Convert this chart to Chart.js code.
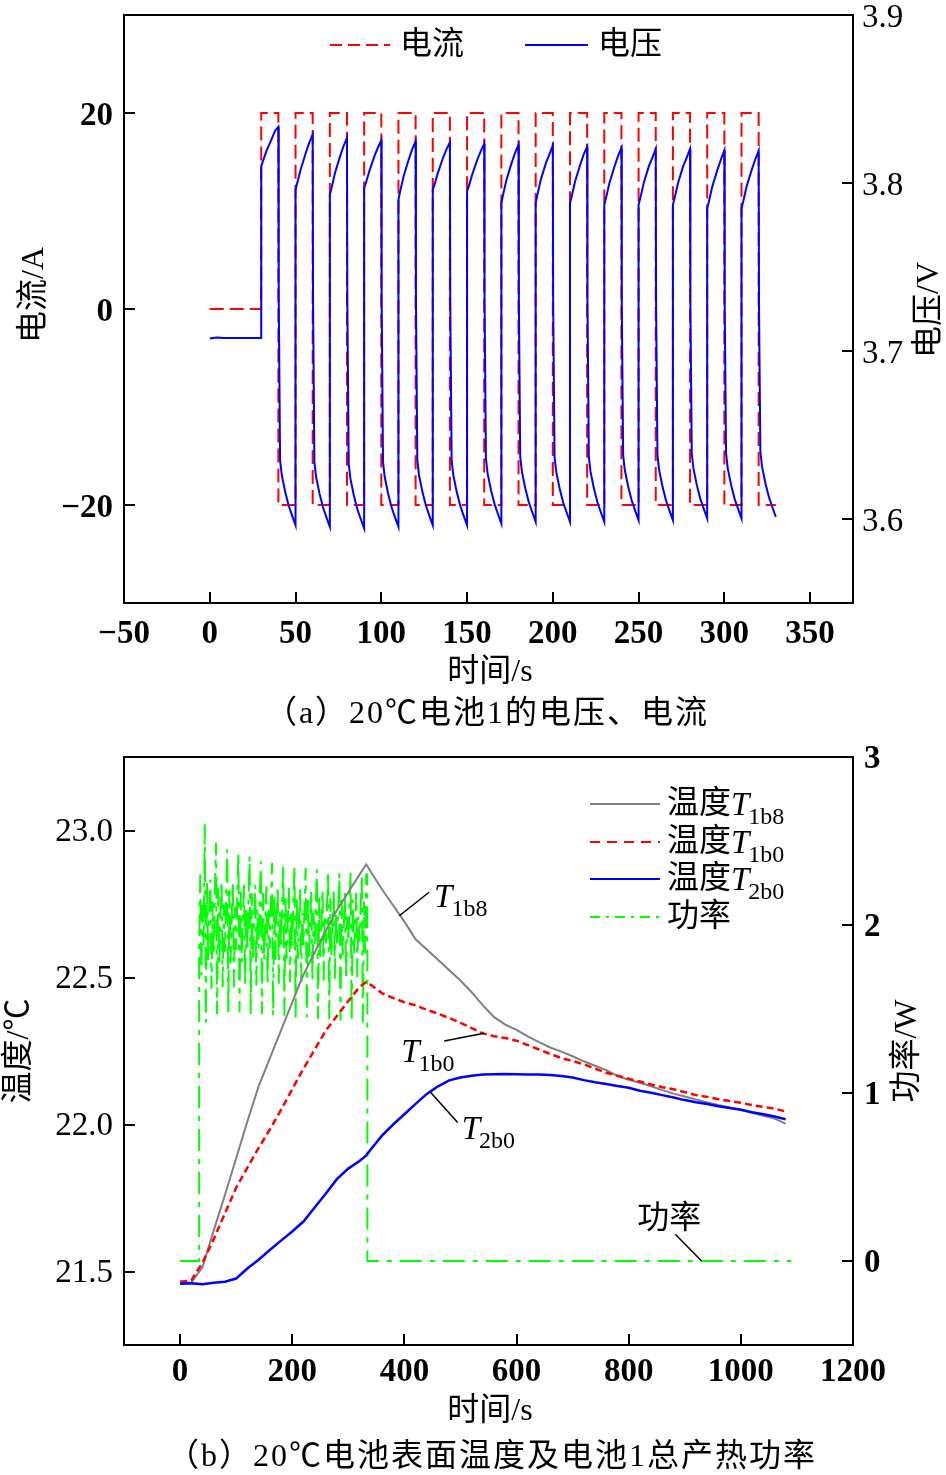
<!DOCTYPE html>
<html><head><meta charset="utf-8">
<script src="https://cdn.jsdelivr.net/npm/chart.js@4.4.1/dist/chart.umd.min.js"></script>
<style>
body{margin:0;background:#fff;}
#wrap{position:relative;width:946px;height:1475px;overflow:hidden;background:#fff}
canvas{position:absolute;left:0}
.cap{position:absolute;white-space:nowrap;transform:translateX(-50%);font-family:"Liberation Serif","Noto Sans CJK SC",serif;font-size:32px;color:#000;line-height:40px;letter-spacing:2px;}
</style></head><body>
<div id="wrap">
<canvas id="c1" width="946" height="700" style="top:0"></canvas>
<div class="cap" style="top:692px;left:487px">（a）20℃电池1的电压、电流</div>
<canvas id="c2" width="946" height="700" style="top:740px"></canvas>
<div class="cap" style="top:1435px;left:492px">（b）20℃电池表面温度及电池1总产热功率</div>
</div>
<script>
const FONT = '"Liberation Serif", "Noto Sans CJK SC", serif';

// ================= (a) data =================
const aXTicks = [-50, 0, 50, 100, 150, 200, 250, 300, 350];
const aCurrentTicks = [-20, 0, 20];
const aVoltTicks = [3.6, 3.7, 3.8, 3.9];

const restTimes = [0, 4, 8, 30];
const restVolts = [3.7075, 3.7080, 3.7077, 3.7078];
const restCurrent = 0;
const chargeCurrent = 20;
const dischargeCurrent = -20;
const chargeDuration = 10;
const cycleDuration = 20;
const cycleStarts = [30, 50, 70, 90, 110, 130, 150, 170, 190, 210, 230, 250, 270, 290, 310];
const chargeOffsets = [0, 1, 3, 6, 8, 10];
const dischargeOffsets = [10.2, 11, 12, 14, 16, 18, 20];
const chargeVolts = [
  [3.810, 3.813, 3.819, 3.826, 3.831, 3.8335],
  [3.796, 3.800, 3.808, 3.818, 3.824, 3.8288],
  [3.793, 3.797, 3.806, 3.816, 3.822, 3.8268],
  [3.797, 3.800, 3.807, 3.816, 3.821, 3.8254],
  [3.790, 3.795, 3.804, 3.814, 3.820, 3.8248],
  [3.796, 3.799, 3.806, 3.815, 3.820, 3.8242],
  [3.795, 3.798, 3.805, 3.814, 3.819, 3.8234],
  [3.788, 3.793, 3.802, 3.812, 3.818, 3.8228],
  [3.788, 3.793, 3.802, 3.812, 3.817, 3.8223],
  [3.788, 3.792, 3.801, 3.811, 3.817, 3.8215],
  [3.787, 3.791, 3.800, 3.810, 3.816, 3.8209],
  [3.787, 3.791, 3.800, 3.810, 3.815, 3.8203],
  [3.787, 3.791, 3.800, 3.810, 3.815, 3.8203],
  [3.785, 3.789, 3.798, 3.808, 3.814, 3.8195],
  [3.785, 3.789, 3.798, 3.808, 3.814, 3.8193]
];
const dischargeVolts = [
  [3.733, 3.635, 3.626, 3.616, 3.608, 3.602, 3.5963],
  [3.731, 3.634, 3.625, 3.615, 3.607, 3.601, 3.5954],
  [3.730, 3.633, 3.624, 3.614, 3.606, 3.600, 3.5944],
  [3.731, 3.634, 3.625, 3.615, 3.607, 3.601, 3.5954],
  [3.731, 3.635, 3.626, 3.616, 3.608, 3.602, 3.5963],
  [3.730, 3.635, 3.626, 3.616, 3.608, 3.602, 3.5963],
  [3.730, 3.636, 3.627, 3.617, 3.609, 3.603, 3.5973],
  [3.729, 3.637, 3.628, 3.618, 3.610, 3.604, 3.5983],
  [3.729, 3.637, 3.628, 3.618, 3.610, 3.604, 3.5983],
  [3.729, 3.637, 3.628, 3.618, 3.610, 3.604, 3.5983],
  [3.728, 3.638, 3.629, 3.619, 3.611, 3.605, 3.5993],
  [3.728, 3.638, 3.629, 3.619, 3.611, 3.605, 3.5993],
  [3.728, 3.639, 3.630, 3.620, 3.612, 3.606, 3.6003],
  [3.727, 3.639, 3.630, 3.620, 3.612, 3.606, 3.6003],
  [3.727, 3.640, 3.631, 3.621, 3.613, 3.607, 3.6013]
];

// ================= (b) data =================
const bXTicks = [0, 200, 400, 600, 800, 1000, 1200];
const bTempTicks = [21.5, 22.0, 22.5, 23.0];
const bPowerTicks = [0, 1, 2, 3];

const tempTimes = [0,20,40,60,80,100,120,140,160,180,200,220,240,260,280,300,320,332,340,360,380,400,420,440,460,480,500,520,540,560,580,600,620,640,660,680,700,720,740,760,780,800,820,840,860,880,900,920,940,960,980,1000,1020,1040,1060,1080];
const tempT1b8 = [21.465,21.462,21.515,21.640,21.760,21.885,22.010,22.130,22.225,22.320,22.415,22.510,22.585,22.660,22.730,22.790,22.850,22.885,22.860,22.800,22.745,22.690,22.630,22.595,22.560,22.525,22.490,22.450,22.405,22.365,22.340,22.322,22.300,22.280,22.262,22.248,22.232,22.215,22.200,22.185,22.165,22.152,22.142,22.130,22.117,22.105,22.095,22.085,22.075,22.066,22.058,22.050,22.040,22.030,22.020,22.003];
const tempT1b0 = [21.465,21.470,21.530,21.610,21.698,21.785,21.853,21.920,21.983,22.050,22.120,22.190,22.255,22.320,22.370,22.420,22.468,22.485,22.475,22.447,22.430,22.416,22.405,22.390,22.377,22.362,22.346,22.328,22.310,22.300,22.294,22.285,22.270,22.255,22.240,22.226,22.216,22.205,22.190,22.176,22.166,22.156,22.146,22.136,22.127,22.120,22.110,22.100,22.094,22.086,22.080,22.074,22.066,22.060,22.054,22.044];
const tempT2b0 = [21.458,21.460,21.457,21.462,21.465,21.476,21.510,21.540,21.573,21.605,21.636,21.670,21.718,21.765,21.815,21.850,21.876,21.895,21.915,21.962,22.000,22.035,22.070,22.104,22.130,22.150,22.160,22.166,22.170,22.171,22.172,22.171,22.170,22.170,22.168,22.165,22.160,22.151,22.144,22.138,22.131,22.125,22.115,22.108,22.100,22.092,22.083,22.076,22.070,22.062,22.056,22.050,22.042,22.035,22.027,22.018];

const powerOnTime = 34;
const powerOffTime = 334;
const powerEndTime = 1090;
const powerCycleStarts = [34, 54, 74, 94, 114, 134, 154, 174, 194, 214, 234, 254, 274, 294, 314];
const powerOffsets = [0, 2, 4, 6, 8, 10, 12, 14, 16, 18];
const powerValues = [
  [1.86, 2.30, 1.70, 2.12, 1.88, 2.60, 1.42, 2.25, 1.78, 2.08],
  [2.27, 1.62, 2.14, 1.82, 2.18, 2.49, 1.47, 2.22, 1.76, 2.06],
  [2.26, 1.63, 2.12, 1.84, 2.16, 2.45, 1.48, 2.21, 1.77, 2.05],
  [2.25, 1.63, 2.11, 1.85, 2.15, 2.43, 1.48, 2.20, 1.78, 2.04],
  [2.24, 1.64, 2.10, 1.85, 2.15, 2.41, 1.47, 2.19, 1.78, 2.03],
  [2.24, 1.64, 2.09, 1.86, 2.14, 2.38, 1.47, 2.19, 1.79, 2.03],
  [2.23, 1.65, 2.09, 1.86, 2.14, 2.37, 1.46, 2.18, 1.79, 2.02],
  [2.23, 1.65, 2.08, 1.87, 2.13, 2.36, 1.46, 2.18, 1.80, 2.02],
  [2.22, 1.66, 2.08, 1.87, 2.13, 2.35, 1.45, 2.17, 1.80, 2.01],
  [2.22, 1.66, 2.07, 1.88, 2.12, 2.34, 1.45, 2.17, 1.81, 2.01],
  [2.21, 1.67, 2.07, 1.88, 2.12, 2.33, 1.44, 2.16, 1.81, 2.00],
  [2.21, 1.67, 2.06, 1.89, 2.11, 2.32, 1.44, 2.16, 1.82, 2.00],
  [2.20, 1.68, 2.06, 1.89, 2.11, 2.31, 1.43, 2.15, 1.82, 1.99],
  [2.20, 1.68, 2.05, 1.90, 2.10, 2.31, 1.43, 2.15, 1.83, 1.99],
  [2.19, 1.69, 2.05, 1.90, 2.10, 2.30, 1.42, 2.14, 1.83, 2.30]
];
const powerLastValue = 2.30;

// ================= build datasets =================
function voltagePoints() {
  const pts = restTimes.map((t, i) => ({x: t, y: restVolts[i]}));
  cycleStarts.forEach((t0, k) => {
    chargeOffsets.forEach((o, j) => pts.push({x: t0 + o, y: chargeVolts[k][j]}));
    dischargeOffsets.forEach((o, j) => pts.push({x: t0 + o, y: dischargeVolts[k][j]}));
  });
  return pts;
}
function currentPoints() {
  const pts = [{x: restTimes[0], y: restCurrent}, {x: cycleStarts[0], y: restCurrent}];
  cycleStarts.forEach(t0 => {
    pts.push({x: t0, y: chargeCurrent}, {x: t0 + chargeDuration, y: chargeCurrent},
             {x: t0 + chargeDuration, y: dischargeCurrent}, {x: t0 + cycleDuration, y: dischargeCurrent});
  });
  return pts;
}
function tempPoints(vals) { return tempTimes.map((t, i) => ({x: t, y: vals[i]})); }
function powerPoints() {
  const pts = [{x: 0, y: 0}, {x: powerOnTime, y: 0}];
  powerCycleStarts.forEach((t0, k) => powerOffsets.forEach((o, j) => pts.push({x: t0 + o, y: powerValues[k][j]})));
  pts.push({x: powerOffTime, y: powerLastValue}, {x: powerOffTime, y: 0}, {x: powerEndTime, y: 0});
  return pts;
}

// ================= helpers =================
const minus = v => (v < 0 ? '\u2212' : '') + Math.abs(v);
function tickScale(ticksArr, fmt, weight, padding, labelOffset, extra) {
  return Object.assign({
    type: 'linear',
    grid: {display: false, drawTicks: false},
    border: {display: false},
    afterBuildTicks: s => { s.ticks = ticksArr.map(v => ({value: v})); },
    ticks: {font: {family: FONT, size: 33, weight: weight}, color: '#000', padding: padding, labelOffset: labelOffset,
            maxRotation: 0, autoSkip: false, callback: v => fmt(v)}
  }, extra);
}
function vText(ctx, s, cx, cy, font) {
  ctx.save(); ctx.translate(cx, cy); ctx.rotate(-Math.PI / 2);
  ctx.font = font; ctx.textAlign = 'center'; ctx.textBaseline = 'middle'; ctx.fillStyle = '#000';
  ctx.fillText(s, 0, 0); ctx.restore();
}
function hText(ctx, s, x, y, font, align, baseline) {
  ctx.font = font; ctx.textAlign = align || 'left'; ctx.textBaseline = baseline || 'middle'; ctx.fillStyle = '#000';
  ctx.fillText(s, x, y);
  return ctx.measureText(s).width;
}
function tSub(ctx, x, baseY, sub) {
  ctx.font = 'italic 33px "Liberation Serif"'; ctx.textAlign = 'left'; ctx.textBaseline = 'alphabetic'; ctx.fillStyle = '#000';
  ctx.fillText('T', x, baseY);
  const w = ctx.measureText('T').width;
  ctx.font = '24px "Liberation Serif"';
  ctx.fillText(sub, x + w - 1, baseY + 9);
}
function seg(ctx, x1, y1, x2, y2, color, width, dash) {
  ctx.save(); ctx.strokeStyle = color; ctx.lineWidth = width; ctx.setLineDash(dash || []);
  ctx.beginPath(); ctx.moveTo(x1, y1); ctx.lineTo(x2, y2); ctx.stroke(); ctx.restore();
}
function framePlugin(drawExtra) {
  return {
    id: 'frame',
    afterDraw(chart) {
      const ctx = chart.ctx, a = chart.chartArea, TL = 11;
      ctx.save();
      ctx.strokeStyle = '#000'; ctx.lineWidth = 2; ctx.setLineDash([]);
      ctx.strokeRect(a.left, a.top, a.right - a.left, a.bottom - a.top);
      ctx.beginPath();
      const sx = chart.scales.x, sy = chart.scales.y, sy1 = chart.scales.y1;
      sx.ticks.forEach(t => { if (t.value <= sx.min || t.value >= sx.max) return; const p = Math.round(sx.getPixelForValue(t.value)); ctx.moveTo(p, a.bottom); ctx.lineTo(p, a.bottom - TL); });
      sy.ticks.forEach(t => { if (t.value <= sy.min || t.value >= sy.max) return; const p = Math.round(sy.getPixelForValue(t.value)); ctx.moveTo(a.left, p); ctx.lineTo(a.left + TL, p); });
      sy1.ticks.forEach(t => { if (t.value <= sy1.min || t.value >= sy1.max) return; const p = Math.round(sy1.getPixelForValue(t.value)); ctx.moveTo(a.right, p); ctx.lineTo(a.right - TL, p); });
      ctx.stroke();
      drawExtra(chart, ctx);
      ctx.restore();
    }
  };
}
const CJK = '32px "Liberation Serif", "Noto Sans CJK SC"';

// ================= chart (a) =================
new Chart(document.getElementById('c1'), {
  type: 'line',
  data: {datasets: [
    {label: '电压', data: voltagePoints(), yAxisID: 'y1', borderColor: '#0000ff', borderWidth: 2, pointRadius: 0, tension: 0, fill: false},
    {label: '电流', data: currentPoints(), yAxisID: 'y', borderColor: '#ff0000', borderWidth: 2, borderDash: [14, 6], pointRadius: 0, tension: 0, fill: false}
  ]},
  options: {
    responsive: false, animation: false, events: [],
    layout: {padding: {top: 15, left: 0, right: 0, bottom: 0}},
    plugins: {legend: {display: false}, tooltip: {enabled: false}},
    scales: {
      x: tickScale(aXTicks, minus, 'bold', 12, 0, {min: -50, max: 375, position: 'bottom',
          afterFit: s => { s.height = 97; s.paddingLeft = 0; s.paddingRight = 0; }}),
      y: tickScale(aCurrentTicks, minus, 'bold', 11, 3, {min: -30, max: 30, position: 'left',
          afterFit: s => { s.width = 124; s.paddingTop = 0; s.paddingBottom = 0; }}),
      y1: tickScale(aVoltTicks, v => v.toFixed(1), 'normal', 9, 3, {min: 3.55, max: 3.9, position: 'right',
          afterFit: s => { s.width = 93; s.paddingTop = 0; s.paddingBottom = 0; }})
    }
  },
  plugins: [framePlugin((chart, ctx) => {
    vText(ctx, '电流/A', 35, 295, CJK);
    vText(ctx, '电压/V', 930, 310, CJK);
    hText(ctx, '时间/s', 490, 673, CJK, 'center');
    seg(ctx, 330, 45, 390, 45, '#ff0000', 2, [12, 6]);
    hText(ctx, '电流', 400, 46, CJK);
    seg(ctx, 525, 45, 588, 45, '#0000ff', 2);
    hText(ctx, '电压', 598, 46, CJK);
  })]
});

// ================= chart (b) =================
new Chart(document.getElementById('c2'), {
  type: 'line',
  data: {datasets: [
    {label: '温度T2b0', data: tempPoints(tempT2b0), yAxisID: 'y', borderColor: '#0000ff', borderWidth: 2.5, pointRadius: 0, tension: 0},
    {label: '温度T1b0', data: tempPoints(tempT1b0), yAxisID: 'y', borderColor: '#ff0000', borderWidth: 2.5, borderDash: [7, 4], pointRadius: 0, tension: 0},
    {label: '温度T1b8', data: tempPoints(tempT1b8), yAxisID: 'y', borderColor: '#808080', borderWidth: 2, pointRadius: 0, tension: 0},
    {label: '功率', data: powerPoints(), yAxisID: 'y1', borderColor: '#00ff00', borderWidth: 2, borderDash: [22, 8, 5, 8], pointRadius: 0, tension: 0}
  ]},
  options: {
    responsive: false, animation: false, events: [],
    layout: {padding: {top: 17, left: 0, right: 0, bottom: 0}},
    plugins: {legend: {display: false}, tooltip: {enabled: false}},
    scales: {
      x: tickScale(bXTicks, minus, 'bold', 8, 0, {min: -100, max: 1200, position: 'bottom',
          afterFit: s => { s.height = 95; s.paddingLeft = 0; s.paddingRight = 0; }}),
      y: tickScale(bTempTicks, v => v.toFixed(1), 'normal', 11, 2, {min: 21.25, max: 23.25, position: 'left',
          afterFit: s => { s.width = 124; s.paddingTop = 0; s.paddingBottom = 0; }}),
      y1: tickScale(bPowerTicks, v => String(v), 'bold', 11, 2, {min: -0.5, max: 3, position: 'right',
          afterFit: s => { s.width = 93; s.paddingTop = 0; s.paddingBottom = 0; }})
    }
  },
  plugins: [framePlugin((chart, ctx) => {
    const sx = chart.scales.x, sy = chart.scales.y, sy1 = chart.scales.y1;
    vText(ctx, '温度/℃', 20, 311, CJK);
    vText(ctx, '功率/W', 908, 311, CJK);
    hText(ctx, '时间/s', 490, 672, CJK, 'center');
    // legend
    const rows = [64, 102, 139, 177];
    seg(ctx, 590, rows[0], 660, rows[0], '#808080', 2);
    seg(ctx, 590, rows[1], 660, rows[1], '#ff0000', 2, [10, 7]);
    seg(ctx, 590, rows[2], 660, rows[2], '#0000ff', 2);
    seg(ctx, 590, rows[3], 660, rows[3], '#00ff00', 2, [10, 6, 3, 6]);
    const subs = ['1b8', '1b0', '2b0'];
    for (let i = 0; i < 3; i++) {
      const w = hText(ctx, '温度', 667, rows[i] + 1, CJK);
      tSub(ctx, 667 + w, rows[i] + 11, subs[i]);
    }
    hText(ctx, '功率', 667, rows[3] + 1, CJK);
    // annotations
    let p1 = [sx.getPixelForValue(391), sy.getPixelForValue(22.71)], p2 = [sx.getPixelForValue(444), sy.getPixelForValue(22.79)];
    seg(ctx, p1[0], p1[1], p2[0], p2[1], '#000', 1.5);
    tSub(ctx, p2[0] + 5, p2[1] + 15, '1b8');
    p1 = [sx.getPixelForValue(471), sy.getPixelForValue(22.284)]; p2 = [sx.getPixelForValue(542), sy.getPixelForValue(22.31)];
    seg(ctx, p1[0], p1[1], p2[0], p2[1], '#000', 1.5);
    tSub(ctx, p1[0] - 43, p1[1] + 21, '1b0');
    p1 = [sx.getPixelForValue(447), sy.getPixelForValue(22.109)]; p2 = [sx.getPixelForValue(495), sy.getPixelForValue(22.007)];
    seg(ctx, p1[0], p1[1], p2[0], p2[1], '#000', 1.5);
    tSub(ctx, p2[0] + 4, p2[1] + 17, '2b0');
    p1 = [sx.getPixelForValue(883), sy1.getPixelForValue(0.159)]; p2 = [sx.getPixelForValue(930), sy1.getPixelForValue(0)];
    seg(ctx, p1[0], p1[1], p2[0], p2[1], '#000', 1.5);
    hText(ctx, '功率', p1[0] - 6, p1[1] - 15, CJK, 'center');
  })]
});
</script>
</body></html>
